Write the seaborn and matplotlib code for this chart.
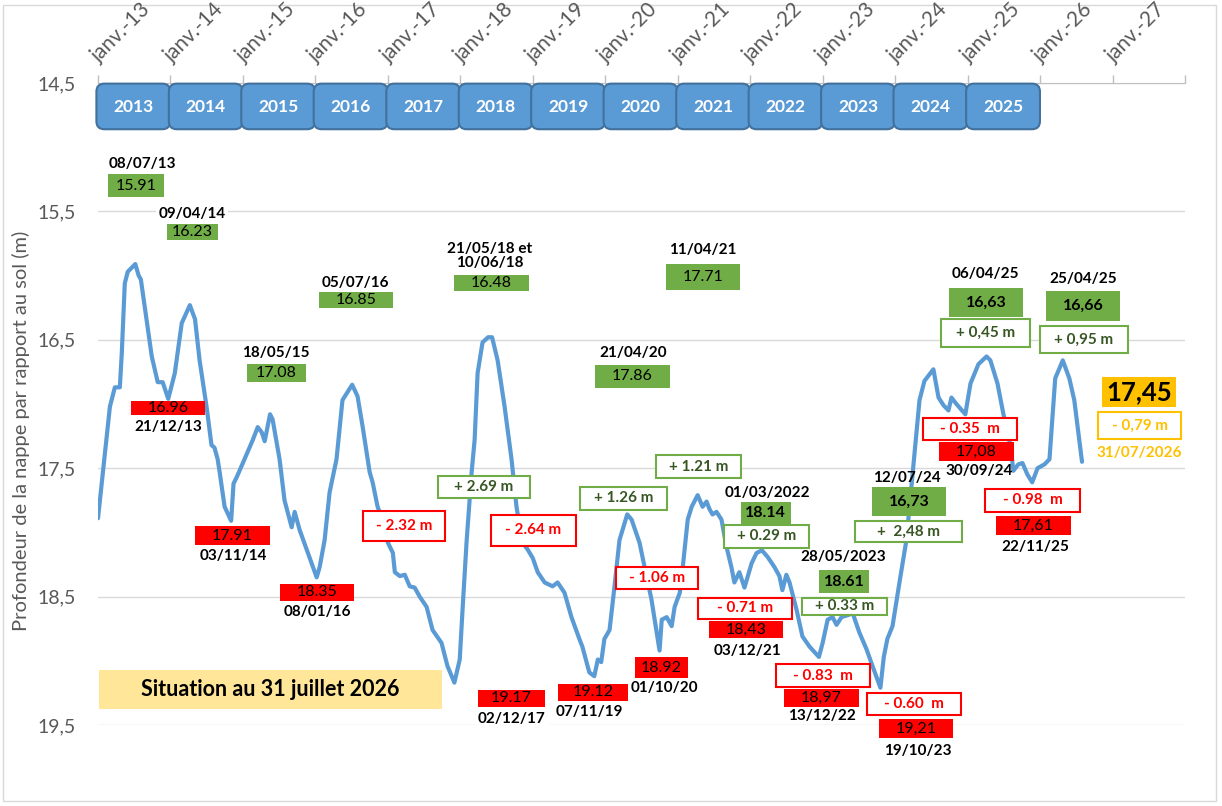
import matplotlib
matplotlib.use("Agg")
import matplotlib.pyplot as plt
import matplotlib.dates as mdates
from matplotlib.patches import Rectangle, FancyBboxPatch
from matplotlib.transforms import ScaledTranslation
import pandas as pd
import seaborn as sns

W, H = 1222, 806

# piezometer record : depth of the water table below ground (m)
dates = [
    "2013-01-01", "2013-02-05", "2013-03-02", "2013-03-27", "2013-04-21", "2013-05-01",
    "2013-05-16", "2013-05-31", "2013-07-08", "2013-07-25", "2013-08-05", "2013-09-29",
    "2013-10-29", "2013-11-23", "2013-12-21", "2014-01-23", "2014-02-27", "2014-04-09",
    "2014-05-05", "2014-05-28", "2014-07-02", "2014-07-27", "2014-08-11", "2014-08-27",
    "2014-09-06", "2014-10-01", "2014-11-03", "2014-11-15", "2014-12-01", "2015-01-01",
    "2015-02-20", "2015-03-17", "2015-04-06", "2015-04-21", "2015-05-18", "2015-05-31",
    "2015-07-05", "2015-07-30", "2015-09-04", "2015-09-19", "2015-10-14", "2015-11-18",
    "2016-01-08", "2016-01-23", "2016-02-17", "2016-03-13", "2016-04-17", "2016-05-17",
    "2016-07-05", "2016-08-01", "2016-08-27", "2016-09-21", "2016-10-01", "2016-10-16",
    "2016-11-10", "2016-12-05", "2017-01-01", "2017-01-26", "2017-02-05", "2017-03-02",
    "2017-03-27", "2017-04-21", "2017-05-16", "2017-06-10", "2017-07-15", "2017-08-14",
    "2017-09-28", "2017-10-28", "2017-12-02", "2017-12-29", "2018-01-13", "2018-02-02",
    "2018-02-27", "2018-03-14", "2018-03-29", "2018-04-23", "2018-05-21", "2018-06-10",
    "2018-07-08", "2018-08-12", "2018-09-16", "2018-10-11", "2018-11-10", "2018-12-05",
    "2019-01-01", "2019-01-26", "2019-03-02", "2019-04-11", "2019-05-06", "2019-06-10",
    "2019-07-15", "2019-08-24", "2019-09-08", "2019-10-13", "2019-11-07", "2019-11-25",
    "2019-12-12", "2019-12-28", "2020-01-23", "2020-02-17", "2020-03-13", "2020-04-21",
    "2020-05-13", "2020-06-22", "2020-07-27", "2020-08-21", "2020-10-01", "2020-10-12",
    "2020-11-06", "2020-12-01", "2020-12-16", "2021-01-11", "2021-01-26", "2021-02-20",
    "2021-03-12", "2021-04-11", "2021-05-06", "2021-05-26", "2021-06-10", "2021-06-25",
    "2021-07-15", "2021-08-09", "2021-09-03", "2021-09-28", "2021-10-13", "2021-11-07",
    "2021-12-03", "2022-01-08", "2022-02-02", "2022-03-01", "2022-03-29", "2022-05-03",
    "2022-05-28", "2022-06-12", "2022-07-02", "2022-07-18", "2022-08-22", "2022-09-21",
    "2022-10-27", "2022-12-13", "2023-01-01", "2023-01-26", "2023-02-20", "2023-03-12",
    "2023-04-06", "2023-05-16", "2023-05-28", "2023-07-05", "2023-08-10", "2023-09-09",
    "2023-10-19", "2023-11-05", "2023-11-23", "2023-12-19", "2024-01-23", "2024-02-27",
    "2024-04-03", "2024-05-03", "2024-05-28", "2024-07-12", "2024-08-07", "2024-09-01",
    "2024-09-26", "2024-10-11", "2024-11-05", "2024-12-20", "2025-01-15", "2025-02-24",
    "2025-04-06", "2025-04-25", "2025-05-31", "2025-06-30", "2025-08-04", "2025-08-19",
    "2025-09-13", "2025-10-04", "2025-10-29", "2025-11-22", "2025-12-19", "2026-01-23",
    "2026-02-17", "2026-03-04", "2026-03-18", "2026-04-25", "2026-05-28", "2026-06-22",
    "2026-07-31",
]
depths = [
    17.89, 17.38, 17.02, 16.87, 16.87, 16.60,
    16.06, 15.97, 15.91, 16.00, 16.03, 16.63,
    16.83, 16.83, 16.96, 16.76, 16.37, 16.23,
    16.34, 16.66, 17.02, 17.32, 17.34, 17.43,
    17.53, 17.80, 17.91, 17.62, 17.57, 17.46,
    17.28, 17.18, 17.22, 17.29, 17.08, 17.12,
    17.43, 17.75, 17.96, 17.84, 17.98, 18.13,
    18.35, 18.27, 18.06, 17.69, 17.43, 16.97,
    16.85, 16.94, 17.18, 17.43, 17.53, 17.61,
    17.80, 17.90, 18.08, 18.16, 18.31, 18.34,
    18.33, 18.42, 18.43, 18.50, 18.58, 18.76,
    18.86, 19.04, 19.17, 18.99, 18.58, 18.06,
    17.53, 17.28, 16.76, 16.52, 16.48, 16.48,
    16.66, 17.02, 17.43, 17.80, 18.08, 18.13,
    18.20, 18.31, 18.39, 18.42, 18.39, 18.47,
    18.66, 18.83, 18.89, 19.09, 19.12, 18.99,
    19.01, 18.83, 18.76, 18.42, 18.06, 17.86,
    17.90, 18.08, 18.34, 18.52, 18.92, 18.68,
    18.66, 18.73, 18.58, 18.47, 18.27, 17.90,
    17.80, 17.71, 17.80, 17.76, 17.82, 17.86,
    17.84, 17.90, 18.11, 18.27, 18.39, 18.31,
    18.43, 18.24, 18.16, 18.14, 18.19, 18.27,
    18.34, 18.45, 18.33, 18.39, 18.60, 18.81,
    18.89, 18.97, 18.86, 18.68, 18.66, 18.72,
    18.66, 18.64, 18.61, 18.78, 18.91, 19.04,
    19.21, 18.97, 18.83, 18.73, 18.39, 18.06,
    17.47, 16.97, 16.82, 16.73, 16.95, 17.01,
    17.05, 16.95, 17.00, 17.08, 16.84, 16.69,
    16.63, 16.66, 16.84, 17.08, 17.32, 17.52,
    17.47, 17.46, 17.55, 17.61, 17.50, 17.47,
    17.43, 17.11, 16.80, 16.66, 16.80, 16.97,
    17.45,
]

years = list(range(2013, 2026))
tick_years = list(range(2013, 2029))
tick_labels = ["janv.-%02d" % (y % 100) for y in range(2013, 2028)] + [""]
y_ticks = [14.5, 15.5, 16.5, 17.5, 18.5, 19.5]

# high levels (green) and low levels (red)
peak_values = ["15.91", "16.23", "17.08", "16.85", "16.48", "17.86",
               "17.71", "18.14", "18.61", "16,73", "16,63", "16,66"]
peak_dates = ["08/07/13", "09/04/14", "18/05/15", "05/07/16", "21/05/18 et\n10/06/18",
              "21/04/20", "11/04/21", "01/03/2022", "28/05/2023", "12/07/24",
              "06/04/25", "25/04/25"]
low_values = ["16.96", "17.91", "18.35", "19.17", "19.12", "18.92",
              "18,43", "18,97", "19,21", "17,08", "17,61"]
low_dates = ["21/12/13", "03/11/14", "08/01/16", "02/12/17", "07/11/19", "01/10/20",
             "03/12/21", "13/12/22", "19/10/23", "30/09/24", "22/11/25"]
rises = ["+ 2.69 m", "+ 1.26 m", "+ 1.21 m", "+ 0.29 m", "+ 0.33 m",
         "+  2,48 m", "+ 0,45 m", "+ 0,95 m"]
falls = ["- 2.32 m", "- 2.64 m", "- 1.06 m", "- 0.71 m", "- 0.83  m",
         "- 0.60  m", "- 0.35  m", "- 0.98  m"]
last_value = "17,45"
last_change = "- 0,79 m"
last_date = "31/07/2026"
situation = "Situation au 31 juillet 2026"

# layout of the annotations, in pixels of the 1222x806 picture (cx, cy, w, h)
peak_box_pos = [(136, 185.5, 56, 23), (192.5, 231.5, 51, 17), (276.5, 373, 59, 18),
                (356, 300, 74, 16), (491.5, 283, 75, 16), (632.5, 376.5, 75, 23),
                (703, 277, 74, 26), (765.5, 513, 50, 22), (844, 581.5, 50, 23),
                (909, 501.5, 74, 29), (986, 302.5, 74, 29), (1083, 306, 74, 30)]
peak_bold = [False] * 7 + [True] * 5
peak_date_pos = [(142, 164), (192, 214), (276, 353), (355, 283), (490, 256), (633, 353),
                 (703, 250), (767, 493), (843, 557), (907, 478), (985, 274), (1083, 278.5)]
peak_date_bg = [False, True, False, False, False, True, False, False, False, False, False, False]
low_box_pos = [(168, 408, 74, 14), (232.5, 535.5, 75, 19), (317, 592.5, 74, 17),
               (511.5, 698.5, 67, 17), (593, 692.5, 70, 17), (661.5, 667.5, 53, 21),
               (746, 629.5, 74, 17), (821.5, 698, 75, 18), (916, 728.5, 74, 19),
               (976.5, 451.5, 75, 19), (1033.5, 525.5, 75, 19)]
low_date_pos = [(168, 427), (233, 556), (317, 612), (512, 719), (589, 712), (664, 688),
                (748, 651), (822, 716), (918, 751), (979, 471), (1035, 547)]
low_date_bg = [False, False, False, True, False, False, False, False, False, False, False]
rise_pos = [(484, 487, 92, 22), (623.5, 498.5, 87, 23), (698.5, 466.5, 85, 23),
            (766.5, 536.5, 85, 23), (844.5, 606.5, 85, 17), (908.5, 531.5, 107, 21),
            (985.5, 333, 89, 28), (1084, 339.5, 88, 27)]
fall_pos = [(404, 526, 82, 30), (533.5, 530.5, 85, 31), (657, 578, 82, 22),
            (745, 608.5, 94, 21), (823, 675.5, 94, 23), (914, 704, 94, 22),
            (970, 429, 94, 22), (1032.5, 500.5, 95, 23)]

BLUE = "#5B9BD5"
GREEN = "#70AD47"
DKGREEN = "#375623"
RED = "#FF0000"
GOLD = "#FFC000"
GREY = "#595959"

sns.set_style("white")
plt.rcParams["font.family"] = ["Lato", "DejaVu Sans"]

fig = plt.figure(figsize=(W / 100, H / 100), dpi=100)
ax = fig.add_axes([98 / W, 1 - 725 / H, 1087 / W, 642 / H])

df = pd.DataFrame({"date": pd.to_datetime(dates), "depth": depths})
sns.lineplot(data=df, x="date", y="depth", ax=ax, color=BLUE, linewidth=3, zorder=3)

ax.set_xlim(pd.Timestamp("2013-01-01"), pd.Timestamp("2028-01-01"))
ax.set_ylim(19.5, 14.5)
ax.set_xlabel("")
ax.set_ylabel("")

# axis at the top, light grey
ax.xaxis.set_ticks_position("top")
ax.set_xticks([pd.Timestamp(f"{y}-01-01") for y in tick_years])
ax.set_xticklabels(tick_labels, rotation=45, ha="left", va="bottom",
                   rotation_mode="anchor", color=GREY, fontsize=15)
ax.tick_params(axis="x", direction="out", length=6, width=1, color="#BFBFBF", pad=6)
shift = ScaledTranslation(4 / 100, 0, fig.dpi_scale_trans)
for lab in ax.get_xticklabels():
    lab.set_transform(lab.get_transform() + shift)
ax.set_yticks(y_ticks)
ax.set_yticklabels([f"{v:.1f}".replace(".", ",") for v in y_ticks], color=GREY, fontsize=14)
ax.tick_params(axis="y", length=0, pad=16)
for side in ["left", "right", "bottom"]:
    ax.spines[side].set_visible(False)
ax.spines["top"].set_color("#BFBFBF")
ax.yaxis.grid(True, color="#D9D9D9", linewidth=1)
ax.set_axisbelow(True)

fig.text(21 / W, 1 - 431 / H, "Profondeur de la nappe par rapport au sol (m)",
         rotation=90, ha="center", va="center", color=GREY, fontsize=14.5)

# year bands along the top axis
for y in years:
    x0 = mdates.date2num(pd.Timestamp(f"{y}-01-01")) - 8
    x1 = mdates.date2num(pd.Timestamp(f"{y}-12-31"))
    band = FancyBboxPatch((x0, 14.505), x1 - x0, 0.355,
                          boxstyle="round,pad=0,rounding_size=40",
                          mutation_aspect=0.00155, facecolor=BLUE,
                          edgecolor="#41719C", linewidth=1.5, zorder=4, clip_on=False)
    ax.add_patch(band)
    ax.text((x0 + x1) / 2, 14.685, str(y), ha="center", va="center", color="white",
            fontsize=12.5, fontweight="bold", zorder=5)


def box(pos, fc, ec=None, lw=0.0):
    cx, cy, w, h = pos
    fig.add_artist(Rectangle(((cx - w / 2) / W, 1 - (cy + h / 2) / H), w / W, h / H,
                             transform=fig.transFigure, facecolor=fc,
                             edgecolor=ec if ec else fc, linewidth=lw, zorder=5))


def label(cx, cy, s, color="black", size=11, bold=False, bg=False):
    kw = {}
    if bg:
        kw["bbox"] = dict(facecolor="white", edgecolor="none", pad=2)
    fig.text(cx / W, 1 - cy / H, s, ha="center", va="center", color=color,
             fontsize=size, fontweight="bold" if bold else "normal",
             linespacing=1.05, zorder=6, **kw)


for val, pos, bold in zip(peak_values, peak_box_pos, peak_bold):
    box(pos, GREEN)
    label(pos[0], pos[1], val, size=11.5, bold=bold)
for txt, pos, bg in zip(peak_dates, peak_date_pos, peak_date_bg):
    label(pos[0], pos[1], txt, bold=True, bg=bg)

for val, pos in zip(low_values, low_box_pos):
    box(pos, RED)
    label(pos[0], pos[1], val, size=11.5)
for txt, pos, bg in zip(low_dates, low_date_pos, low_date_bg):
    label(pos[0], pos[1], txt, bold=True, bg=bg)

for txt, pos in zip(rises, rise_pos):
    box(pos, "white", GREEN, 1.5)
    label(pos[0], pos[1], txt, color=DKGREEN, bold=True)
for txt, pos in zip(falls, fall_pos):
    box(pos, "white", RED, 1.5)
    label(pos[0], pos[1], txt, color=RED, bold=True)

# latest measurement
box((1139, 392, 74, 30), GOLD)
label(1139, 392, last_value, size=18.5, bold=True)
box((1139.5, 425.5, 83, 27), "white", GOLD, 1.5)
label(1139.5, 425.5, last_change, color=GOLD, bold=True)
label(1139, 453, last_date, color=GOLD, bold=True)

box((270.5, 689.5, 343, 39), "#FFE699")
label(270.5, 690, situation, size=15.5, bold=True)

# chart border
fig.add_artist(Rectangle((3 / W, 1 - 801 / H), 1213 / W, 796 / H, transform=fig.transFigure,
                         facecolor="none", edgecolor="#D9D9D9", linewidth=1, zorder=0))

fig.savefig("out.png", dpi=100)
